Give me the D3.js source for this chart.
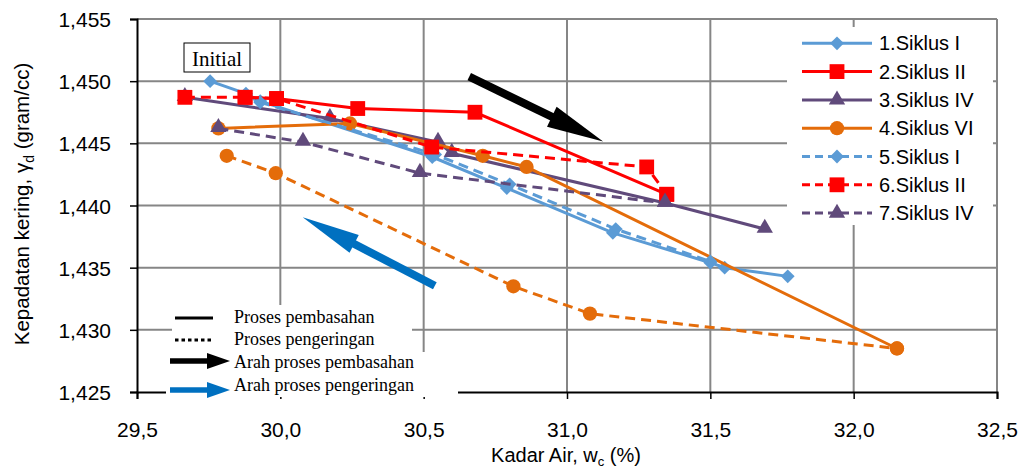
<!DOCTYPE html>
<html>
<meta charset="utf-8">
<script src="https://d3js.org/d3.v7.min.js"></script>
<body style="margin:0;background:#fff">
<script>

// data (x = kadar air %, y = kepadatan kering)
var s1x = [29.755, 29.88, 29.93, 30.53, 30.79, 31.16, 31.50, 31.55, 31.77];
var s1y = [1.4500, 1.4490, 1.4484, 1.4439, 1.4414, 1.4378, 1.4354, 1.4350, 1.4343];
var s2x = [29.877, 29.987, 30.270, 30.679, 31.348];
var s2y = [1.4487, 1.4486, 1.4478, 1.4475, 1.4409];
var s3x = [29.667, 30.173, 30.550, 30.598, 31.342, 31.690];
var s3y = [1.4487, 1.4470, 1.4451, 1.4442, 1.4402, 1.4381];
var s4x = [29.784, 30.243, 30.706, 30.859, 32.151];
var s4y = [1.4462, 1.4466, 1.4440, 1.4431, 1.4285];
var s5x = [29.88, 29.93, 30.54, 30.80, 31.17, 31.50];
var s5y = [1.4489, 1.4483, 1.4441, 1.4417, 1.4381, 1.4355];
var s6x = [29.667, 29.877, 29.987, 30.528, 31.278, 31.348];
var s6y = [1.4487, 1.4487, 1.4486, 1.4447, 1.4431, 1.4409];
var s7x = [29.784, 30.079, 30.487, 31.342];
var s7y = [1.4462, 1.4451, 1.4426, 1.4402];
var s8x = [29.813, 29.984, 30.813, 31.080, 32.151];   // orange dashed, not in legend
var s8y = [1.4440, 1.4426, 1.4335, 1.4313, 1.4285];

var names = ["1.Siklus I", "2.Siklus II", "3.Siklus IV", "4.Siklus VI", "5.Siklus I", "6.Siklus II", "7.Siklus IV"];
var xTicks = [29.5, 30.0, 30.5, 31.0, 31.5, 32.0, 32.5];
var yTicks = [1.425, 1.430, 1.435, 1.440, 1.445, 1.450, 1.455];
var wetArrow = [[30.659, 1.45036], [31.126, 1.44514]];
var dryArrow = [[30.539, 1.43354], [30.078, 1.43906]];

var W = 1025, H = 471;
var blue = "#5B9BD5", red = "#FF0000", purple = "#604A7B", orange = "#E46C0A";

var series = [
  {x: s1x, y: s1y, c: blue, dash: null, sym: "diamond"},
  {x: s2x, y: s2y, c: red, dash: null, sym: "square"},
  {x: s3x, y: s3y, c: purple, dash: null, sym: "triangle"},
  {x: s4x, y: s4y, c: orange, dash: null, sym: "circle"},
  {x: s8x, y: s8y, c: orange, dash: "10,6", sym: "circle"},
  {x: s5x, y: s5y, c: blue, dash: "10,6", sym: "diamond"},
  {x: s6x, y: s6y, c: red, dash: "10,6", sym: "square"},
  {x: s7x, y: s7y, c: purple, dash: "10,6", sym: "triangle"}
];
var legendSeries = [0, 1, 2, 3, 5, 6, 7];

var svg = d3.select("body").append("svg")
  .attr("width", W).attr("height", H)
  .style("font-family", "'Liberation Sans', Arial, sans-serif");

var x = d3.scaleLinear().domain([29.5, 32.5]).range([137, 997]);
var y = d3.scaleLinear().domain([1.425, 1.455]).range([392, 19]);
var comma = function(f) { return function(v) { return d3.format(f)(v).replace(".", ","); }; };

// grid
svg.append("g").selectAll("line").data(yTicks.slice(1)).enter().append("line")
  .attr("x1", x(29.5)).attr("x2", x(32.5)).attr("y1", y).attr("y2", y)
  .attr("stroke", "#868686").attr("stroke-width", 2);
svg.append("g").selectAll("line").data(xTicks.slice(1)).enter().append("line")
  .attr("x1", x).attr("x2", x).attr("y1", y(1.425)).attr("y2", y(1.455))
  .attr("stroke", "#868686").attr("stroke-width", 2);

// axes
var xAx = svg.append("g").attr("transform", "translate(0," + y(1.425) + ")")
  .call(d3.axisBottom(x).tickValues(xTicks).tickSize(7).tickFormat(comma(".1f")));
var yAx = svg.append("g").attr("transform", "translate(" + x(29.5) + ",0)")
  .call(d3.axisLeft(y).tickValues(yTicks).tickSize(7).tickFormat(comma(".3f")));
[xAx, yAx].forEach(function(g) {
  g.select(".domain").attr("stroke", "#000").attr("stroke-width", 2);
  g.selectAll(".tick line").attr("stroke", "#000").attr("stroke-width", 1.5);
  g.selectAll("text").attr("font-size", 21).attr("fill", "#000")
    .attr("font-family", "'Liberation Sans', Arial, sans-serif");
});
xAx.selectAll("text").attr("dy", "1.65em");
yAx.selectAll("text").attr("x", -26).attr("dy", "0.36em");

// axis titles
svg.append("text").attr("x", 566).attr("y", 462).attr("text-anchor", "middle")
  .attr("font-size", 20).html("Kadar Air, w<tspan dy='4' font-size='13'>c</tspan><tspan dy='-4'> (%)</tspan>");
svg.append("text").attr("transform", "translate(29,204) rotate(-90)").attr("text-anchor", "middle")
  .attr("font-size", 20.5).html("Kepadatan kering, \u03b3<tspan dy='5' font-size='14'>d</tspan><tspan dy='-5'> (gram/cc)</tspan>");

// markers
function symbolPath(sym) {
  var t = {diamond: d3.symbolSquare, square: d3.symbolSquare, triangle: d3.symbolTriangle, circle: d3.symbolCircle}[sym];
  var size = {diamond: 95, square: 220, triangle: 115, circle: 160}[sym];
  return d3.symbol().type(t).size(size)();
}

var line = d3.line().x(function(d) { return x(d[0]); }).y(function(d) { return y(d[1]); });

series.forEach(function(s) {
  var pts = s.x.map(function(v, i) { return [v, s.y[i]]; });
  var g = svg.append("g");
  g.append("path").datum(pts).attr("d", line).attr("fill", "none")
    .attr("stroke", s.c).attr("stroke-width", 3).attr("stroke-dasharray", s.dash);
  g.selectAll("path.m").data(pts).enter().append("path").attr("class", "m")
    .attr("d", symbolPath(s.sym))
    .attr("transform", function(d) {
      return "translate(" + x(d[0]) + "," + y(d[1]) + ")" + (s.sym == "diamond" ? " rotate(45)" : "") + (s.sym == "triangle" ? " translate(0,-1)" : "");
    })
    .attr("fill", s.c);
});

// Initial label
svg.append("rect").attr("x", 184).attr("y", 43).attr("width", 66).attr("height", 29)
  .attr("fill", "#fff").attr("stroke", "#000").attr("stroke-width", 1);
svg.append("text").attr("x", 217).attr("y", 66).attr("text-anchor", "middle")
  .attr("font-family", "'Liberation Serif', serif").attr("font-size", 21).text("Initial");

// big direction arrows
function arrow(p0, p1, col, shaft, headLen, headW) {
  var a = [x(p0[0]), y(p0[1])], b = [x(p1[0]), y(p1[1])];
  var dx = b[0] - a[0], dy = b[1] - a[1], L = Math.sqrt(dx * dx + dy * dy);
  var ux = dx / L, uy = dy / L;
  var base = [b[0] - ux * headLen, b[1] - uy * headLen];
  svg.append("line").attr("x1", a[0]).attr("y1", a[1]).attr("x2", base[0] + ux * 2).attr("y2", base[1] + uy * 2)
    .attr("stroke", col).attr("stroke-width", shaft);
  svg.append("polygon").attr("fill", col).attr("points", [
    b, [base[0] - uy * headW, base[1] + ux * headW], [base[0] + uy * headW, base[1] - ux * headW]
  ].map(function(p) { return p.join(","); }).join(" "));
}
arrow(wetArrow[0], wetArrow[1], "#000", 8, 57, 11);
arrow(dryArrow[0], dryArrow[1], "#0070C0", 8, 58, 10);

// series legend
var lg = svg.append("g");
lg.append("rect").attr("x", 787).attr("y", 27).attr("width", 206).attr("height", 198).attr("fill", "#fff");
legendSeries.forEach(function(k, i) {
  var s = series[k], yy = 43.3 + i * 28.3;
  lg.append("line").attr("x1", 802).attr("x2", 872).attr("y1", yy).attr("y2", yy)
    .attr("stroke", s.c).attr("stroke-width", 3).attr("stroke-dasharray", s.dash ? "8,5" : null);
  lg.append("path").attr("d", symbolPath(s.sym))
    .attr("transform", "translate(837," + yy + ")" + (s.sym == "diamond" ? " rotate(45)" : ""))
    .attr("fill", s.c);
  lg.append("text").attr("x", 879).attr("y", yy + 7).attr("font-size", 20).text(names[i]);
});

// process legend (bottom left)
var pl = svg.append("g").attr("font-family", "'Liberation Serif', serif").attr("font-size", 18);
pl.append("rect").attr("x", 172).attr("y", 305).attr("width", 240).attr("height", 48).attr("fill", "#fff");
pl.append("rect").attr("x", 166).attr("y", 352).attr("width", 292).attr("height", 45).attr("fill", "#fff");
pl.append("line").attr("x1", 175).attr("x2", 213).attr("y1", 318).attr("y2", 318).attr("stroke", "#000").attr("stroke-width", 3);
pl.append("line").attr("x1", 175).attr("x2", 213).attr("y1", 340).attr("y2", 340).attr("stroke", "#000").attr("stroke-width", 3).attr("stroke-dasharray", "3.5,3");
pl.append("text").attr("x", 234).attr("y", 323).text("Proses pembasahan");
pl.append("text").attr("x", 234).attr("y", 345).text("Proses pengeringan");
[[361, "#000", "Arah proses pembasahan", 368], [390, "#0070C0", "Arah proses pengeringan", 391]].forEach(function(a) {
  pl.append("line").attr("x1", 170).attr("x2", 209).attr("y1", a[0]).attr("y2", a[0]).attr("stroke", a[1]).attr("stroke-width", 5.5);
  pl.append("polygon").attr("fill", a[1]).attr("points", "207," + (a[0] - 8) + " 230," + a[0] + " 207," + (a[0] + 8));
  pl.append("text").attr("x", 234).attr("y", a[3]).text(a[2]);
});

</script>
</body>
</html>
